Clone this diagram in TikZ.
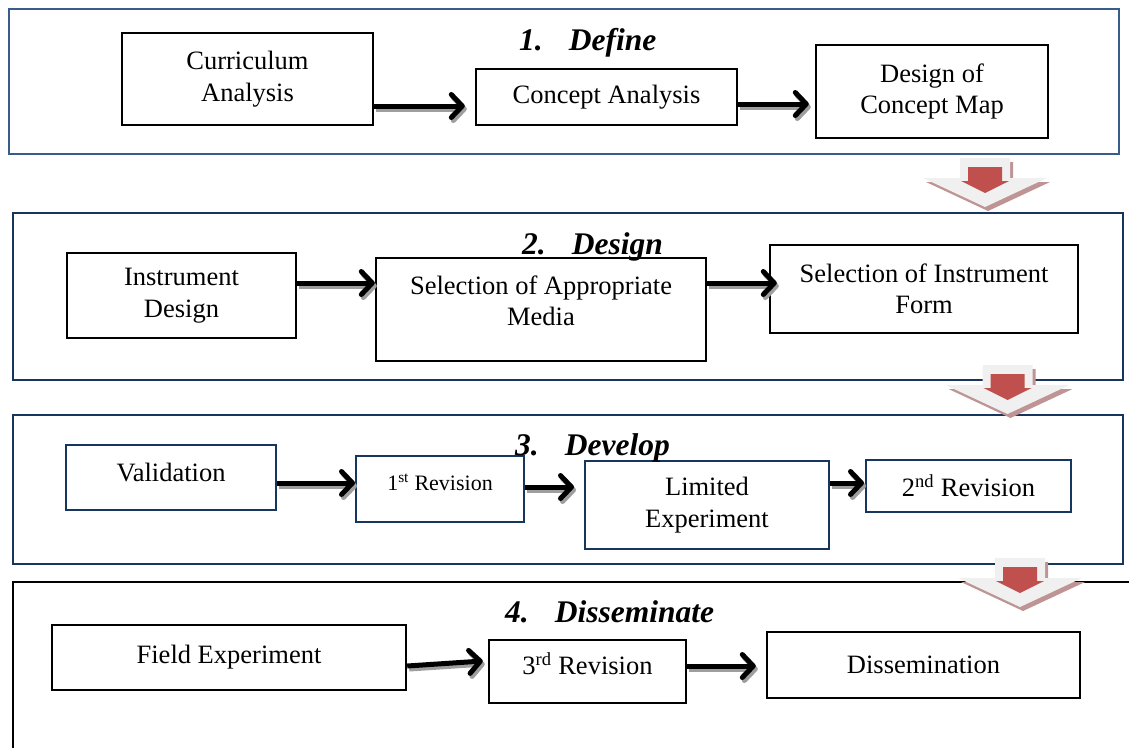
\documentclass[tikz,border=0pt]{standalone}
\usepackage{fontspec}
\setmainfont{Liberation Serif}
\usetikzlibrary{arrows.meta, positioning, calc}
\definecolor{steelline}{RGB}{56,93,138}
\definecolor{navyline}{RGB}{23,54,93}
\definecolor{markred}{RGB}{192,80,77}
\definecolor{markgray}{RGB}{240,240,240}
\definecolor{markpink}{RGB}{190,148,148}
\tikzset{>=Straight Barb,
	stepbox/.style={draw, line width=2.4pt, inner sep=0pt, align=center, font=\fontsize{26.5}{31.5}\selectfont},
	navybox/.style={stepbox, draw=navyline, line width=2pt},
	panel/.style={draw=navyline, line width=2pt},
	headline/.style={font=\fontsize{31.5}{36}\selectfont\bfseries\itshape, inner sep=0pt, anchor=base west},
	flow/.style={line width=5pt, -{Straight Barb[length=11pt,width=23pt,round]}},
	flowshade/.style={flow, draw=black!38},
	downmark/.pic={
		\fill[markpink] (-22,4) -- (28,4) -- (28,24) -- (65,24) -- (3,53) -- (-59,24) -- (-22,24) -- cycle;
		\fill[markgray] (-25,0) -- (25,0) -- (25,20) -- (62,20) -- (0,49) -- (-62,20) -- (-25,20) -- cycle;
		\fill[markred] (-17,9) -- (17,9) -- (17,23) -- (24,23) -- (0,35) -- (-24,23) -- (-17,23) -- cycle;
	}
}
\newcommand{\flowarrow}[4]{%
	\draw[flowshade] ($(#1)+(#3)+(2,3)$) -- ($(#2)+(#4)+(2,3)$);
	\draw[flow] ($(#1)+(#3)$) -- ($(#2)+(#4)$);}

\begin{document}
\begin{tikzpicture}[x=1pt, y=-1pt]
	\clip (0,0) rectangle (1129,747);

	% frames of the four stages
	\draw[panel, draw=steelline] (9,9) rectangle (1119,154);
	\draw[panel] (13,213) rectangle (1123,380);
	\draw[panel] (13,415) rectangle (1123,564);
	\draw[line width=2.4pt] (13,760) -- (13,582) -- (1140,582);

	% 1. Define
	\node[stepbox, minimum width=251, minimum height=92] (curr) at (247.5,79) {Curriculum\\Analysis};
	\node[stepbox, minimum width=261, minimum height=56] (concept) at (606.5,97) {Concept Analysis};
	\node[stepbox, minimum width=232, minimum height=93] (dmap) at (932,91.5) {Design of\\Concept Map};
	\node[headline] (hdefine) at (519,50) {1.\hspace{26pt}Define};

	% 2. Design
	\node[stepbox, minimum width=229, minimum height=85] (idesign) at (181.5,295.5) {Instrument\\Design};
	\node[stepbox, minimum width=330, minimum height=103, text depth=18pt] (media) at (541,309.5) {Selection of Appropriate\\Media};
	\node[stepbox, minimum width=308, minimum height=88] (iform) at (924,289) {Selection of Instrument\\Form};
	\node[headline] (hdesign) at (522,254) {2.\hspace{26pt}Design};

	% 3. Develop
	\node[navybox, minimum width=210, minimum height=65, text height=18pt, text depth=10pt] (valid) at (171,477.5) {Validation};
	\node[navybox, minimum width=168, minimum height=66, font=\fontsize{22}{26}\selectfont, text height=15pt, text depth=12pt] (rev1) at (440,489) {1\textsuperscript{st} Revision};
	\node[navybox, minimum width=244, minimum height=88] (limexp) at (707,505) {Limited\\Experiment};
	\node[navybox, minimum width=205, minimum height=52] (rev2) at (968.5,486) {2\textsuperscript{nd} Revision};
	\node[headline] (hdevelop) at (515,455) {3.\hspace{26pt}Develop};

	% 4. Disseminate
	\node[stepbox, minimum width=354, minimum height=65] (field) at (229,657.5) {Field Experiment};
	\node[stepbox, minimum width=197, minimum height=63, text height=18pt, text depth=12pt] (rev3) at (587.5,671.5) {3\textsuperscript{rd} Revision};
	\node[stepbox, minimum width=313, minimum height=66] (dissem) at (923.5,665) {Dissemination};
	\node[headline] (hdissem) at (505,622) {4.\hspace{26pt}Disseminate};

	% arrows
	\flowarrow{curr.east}{concept.west}{0,27}{-10,9}
	\flowarrow{concept.east}{dmap.west}{0,7}{-6,12.5}
	\flowarrow{idesign.east}{media.west}{0,-12.5}{0,-26.5}
	\flowarrow{media.east}{iform.west}{0,-26.5}{8,-6}
	\flowarrow{valid.east}{rev1.west}{0,5.5}{0,-6}
	\flowarrow{rev1.east}{limexp.west}{0,-2}{-10,-18}
	\flowarrow{limexp.east}{rev2.west}{0,-22}{-1,-3}
	\flowarrow{field.east}{rev3.west}{0,8.5}{-5,-10.5}
	\flowarrow{rev3.east}{dissem.west}{0,-5.5}{-10,1}

	% block arrows between stages
	\pic at (985,158) {downmark};
	\pic at (1007.5,365) {downmark};
	\pic at (1020,558) {downmark};
\end{tikzpicture}
\end{document}
